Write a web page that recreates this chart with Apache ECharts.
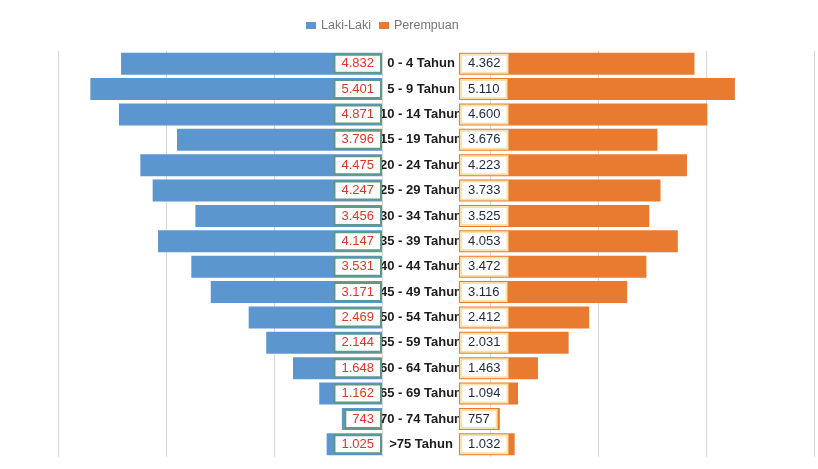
<!DOCTYPE html>
<html>
<head>
<meta charset="utf-8">
<script src="https://cdn.jsdelivr.net/npm/echarts@6/dist/echarts.min.js"></script>
<style>
html,body{margin:0;padding:0;background:#fff;}
#c{width:818px;height:469px;}
</style>
</head>
<body>
<div id="c"></div>
<script>
const categories = ['0 - 4 Tahun','5 - 9 Tahun','10 - 14 Tahun','15 - 19 Tahun','20 - 24 Tahun','25 - 29 Tahun','30 - 34 Tahun','35 - 39 Tahun','40 - 44 Tahun','45 - 49 Tahun','50 - 54 Tahun','55 - 59 Tahun','60 - 64 Tahun','65 - 69 Tahun','70 - 74 Tahun','>75 Tahun'];
const lakiLaki = [4832,5401,4871,3796,4475,4247,3456,4147,3531,3171,2469,2144,1648,1162,743,1025];
const perempuan = [4362,5110,4600,3676,4223,3733,3525,4053,3472,3116,2412,2031,1463,1094,757,1032];
const centerGap = 1425;

function fmt(v){
  v = Math.abs(v);
  return String(v).replace(/\B(?=(\d{3})+(?!\d))/g, '.');
}

const chart = echarts.init(document.getElementById('c'), null, {renderer:'canvas'});
const FONT = 'Liberation Sans, Arial, sans-serif';
chart.setOption({
  backgroundColor:'#ffffff',
  animation:false,
  legend:{
    data:['Laki-Laki','Perempuan'],
    top:14, left:301,
    itemWidth:10, itemHeight:7, itemGap:8,
    icon:'rect',
    textStyle:{fontSize:12.5,color:'#767676',fontFamily:FONT}
  },
  grid:{left:58,right:4,top:51,bottom:12,containLabel:false},
  xAxis:{
    type:'value', min:-6000, max:8000, interval:2000,
    axisLabel:{show:false}, axisTick:{show:false}, axisLine:{show:false},
    splitLine:{show:true,lineStyle:{color:'#d9d9d9',width:1}}
  },
  yAxis:{
    type:'category', data:categories, inverse:true,
    axisLine:{show:false,onZero:false}, axisTick:{show:false},
    axisLabel:{inside:true, margin:363, align:'center', fontSize:13, fontWeight:'bold', color:'#1c1c1c', fontFamily:FONT}
  },
  series:[
    {
      name:'Laki-Laki', type:'bar', stack:'all', barCategoryGap:'13%', barGap:'-100%',
      itemStyle:{color:'#5b96cf'},
      data:lakiLaki.map(v=>-v),
      label:{show:true, position:'insideRight', distance:2,
        formatter:p=>fmt(p.value),
        color:'#e0352b', fontSize:13, fontFamily:FONT,
        backgroundColor:'#ffffff', borderColor:'#5e9888', borderWidth:2, padding:[2,6,1,6]}
    },
    {
      name:'gap', type:'bar', stack:'all', barCategoryGap:'13%', barGap:'-100%',
      itemStyle:{color:'transparent'}, silent:true,
      data:categories.map(()=>centerGap)
    },
    {
      name:'Perempuan', type:'bar', stack:'all', barCategoryGap:'13%', barGap:'-100%',
      itemStyle:{color:'#e97b30'},
      data:perempuan,
      label:{show:true, position:'insideLeft', distance:3,
        formatter:p=>fmt(p.value),
        color:'#1e2640', fontSize:13, fontFamily:FONT,
        backgroundColor:'#ffffff', borderColor:'#f8e2a8', borderWidth:2, padding:[2,6,1,6]}
    }
  ]
});
</script>
</body>
</html>
